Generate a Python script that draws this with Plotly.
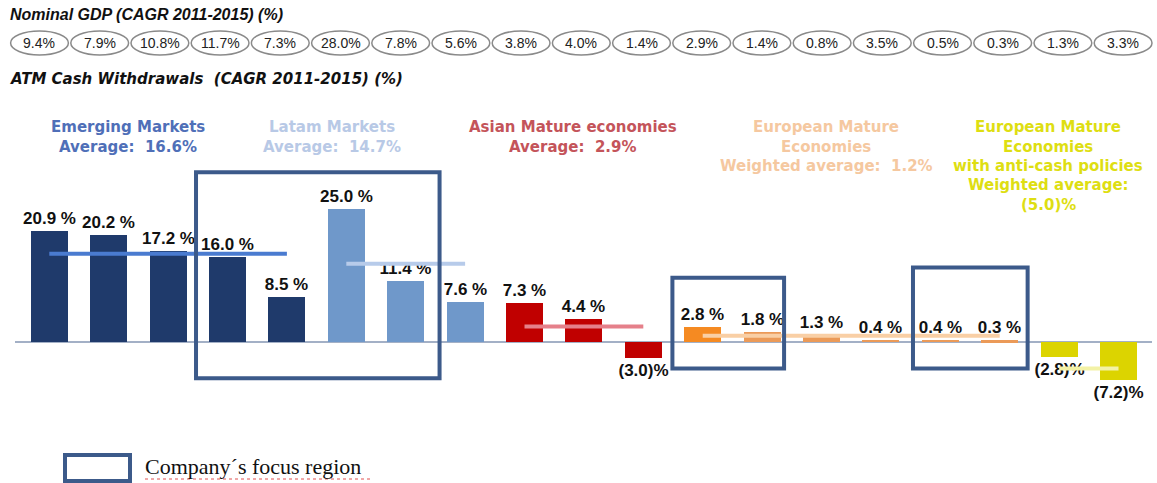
import plotly.graph_objects as go

# data
gdp_cagr = [9.4, 7.9, 10.8, 11.7, 7.3, 28.0, 7.8, 5.6, 3.8, 4.0, 1.4, 2.9, 1.4, 0.8, 3.5, 0.5, 0.3, 1.3, 3.3]
atm_cagr = [20.9, 20.2, 17.2, 16.0, 8.5, 25.0, 11.4, 7.6, 7.3, 4.4, -3.0, 2.8, 1.8, 1.3, 0.4, 0.4, 0.3, -2.8, -7.2]

group_names = ["Emerging", "Latam", "Asian", "European", "AntiCash"]
group_first = [0, 5, 8, 11, 17]
group_last = [4, 7, 10, 16, 18]
group_avg = [16.6, 14.7, 2.9, 1.2, -5.0]
group_labels = [
    ["Emerging Markets", "Average:  16.6%"],
    ["Latam Markets", "Average:  14.7%"],
    ["Asian Mature economies", "Average:  2.9%"],
    ["European Mature", "Economies", "Weighted average:  1.2%"],
    ["European Mature", "Economies", "with anti-cash policies", "Weighted average:", "(5.0)%"],
]

# focus regions (bar index span, y span in %)
focus_x = [(2.47, 6.57), (10.49, 12.37), (14.54, 16.47)]
focus_y = [(31.9, -6.8), (12.1, -5.0), (14.0, -5.0)]

# styling
bar_colors = ["#1f3a6b"] * 5 + ["#6f98ca"] * 3 + ["#c00000"] * 3 + ["#f58a22"] + ["#eb9a58"] * 5 + ["#dcd400"] * 2
avg_colors = ["#4a7bd0", "#b7cbea", "#e5808a", "#f9cfa5", "#f3f2a6"]
label_colors = ["#4f6fb8", "#b8c9e6", "#c4545a", "#f5c8a0", "#dede12"]
label_x = [128, 332, 573, 826, 1048]
box_color = "#3c5a8a"

W, H = 1157, 483


def fmt(v):
    return f"{v:.1f} %" if v >= 0 else f"({abs(v):.1f})%"


x = list(range(len(atm_cagr)))

fig = go.Figure()

fig.add_trace(go.Bar(
    x=x, y=atm_cagr,
    width=0.62,
    marker=dict(color=bar_colors, line=dict(width=0)),
    text=[fmt(v) for v in atm_cagr],
    textposition="outside",
    constraintext="none",
    cliponaxis=False,
    textfont=dict(family="Liberation Sans", size=17, color="#111111", weight="bold"),
    showlegend=False,
    hoverinfo="skip",
))

# average lines
for i in range(len(group_names)):
    fig.add_trace(go.Scatter(
        x=[group_first[i], group_last[i]], y=[group_avg[i], group_avg[i]],
        mode="lines", line=dict(color=avg_colors[i], width=4),
        showlegend=False, hoverinfo="skip",
    ))

# zero line
fig.add_shape(type="line", xref="paper", yref="y", x0=15 / W, x1=1152 / W, y0=0, y1=0,
              line=dict(color="#8496b3", width=1.5), layer="below")

# focus boxes
for (a, b), (t, u) in zip(focus_x, focus_y):
    fig.add_shape(type="rect", xref="x", yref="y", x0=a, x1=b, y0=u, y1=t,
                  line=dict(color=box_color, width=4), layer="above")

# GDP ellipses on a second x axis
for i, g in enumerate(gdp_cagr):
    fig.add_shape(type="circle", xref="x2", yref="paper",
                  x0=i - 0.48, x1=i + 0.48, y0=1 - 55 / H, y1=1 - 31 / H,
                  line=dict(color="#8a8a8a", width=1.5))
    fig.add_annotation(x=i, xref="x2", y=1 - 43 / H, yref="paper", text=f"{g:.1f}%",
                       xanchor="center", yanchor="middle", showarrow=False,
                       font=dict(family="Liberation Sans", size=14, color="#222222"))

# titles
fig.add_annotation(x=8 / W, y=1 - 14 / H, xref="paper", yref="paper", xanchor="left", yanchor="middle",
                   showarrow=False, text="<b><i>Nominal GDP (CAGR 2011-2015) (%)</i></b>",
                   font=dict(family="Liberation Sans", size=16, color="#111111"))
fig.add_annotation(x=8 / W, y=1 - 79 / H, xref="paper", yref="paper", xanchor="left", yanchor="middle",
                   showarrow=False, text="<b><i>ATM Cash Withdrawals  (CAGR 2011-2015) (%)</i></b>",
                   font=dict(family="DejaVu Sans", size=15, color="#111111"))

# group labels, one annotation per line
for i, lines in enumerate(group_labels):
    for k, line in enumerate(lines):
        fig.add_annotation(x=label_x[i] / W, y=1 - (127 + 19.5 * k) / H, xref="paper", yref="paper",
                           xanchor="center", yanchor="middle", showarrow=False, text=f"<b>{line}</b>",
                           font=dict(family="DejaVu Sans", size=15, color=label_colors[i]))

# legend
fig.add_shape(type="rect", xref="paper", yref="paper", x0=65 / W, x1=130 / W,
              y0=1 - 481 / H, y1=1 - 455 / H, line=dict(color=box_color, width=4))
fig.add_annotation(x=143 / W, y=1 - 466 / H, xref="paper", yref="paper", xanchor="left", yanchor="middle",
                   showarrow=False, text="Company´s focus region",
                   font=dict(family="Liberation Serif", size=22, color="#111111"))
fig.add_shape(type="line", xref="paper", yref="paper", x0=145 / W, x1=372 / W,
              y0=1 - 479 / H, y1=1 - 479 / H, line=dict(color="#e05050", width=1, dash="dot"))

fig.update_layout(
    width=W, height=H,
    margin=dict(l=0, r=0, t=0, b=0),
    paper_bgcolor="white", plot_bgcolor="white",
    bargap=0,
    xaxis=dict(range=[-0.830, 18.648], visible=False, fixedrange=True),
    xaxis2=dict(range=[-0.656, 18.563], overlaying="x", visible=False),
    yaxis=dict(range=[-26.50, 64.29], visible=False),
)

fig.write_html("out.html", config={"displayModeBar": False},
               post_script="document.body.style.margin='0';document.body.style.overflow='hidden';")
